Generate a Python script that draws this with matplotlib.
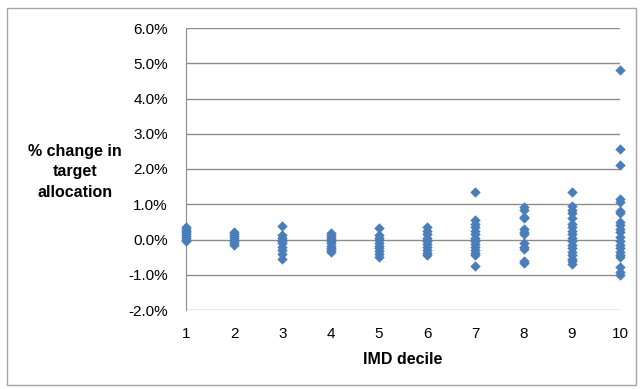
import matplotlib
matplotlib.use("Agg")
import matplotlib.pyplot as plt
from matplotlib.patches import Rectangle
from matplotlib.ticker import FuncFormatter

plt.rcParams['font.family'] = ['Liberation Sans', 'DejaVu Sans']

deciles = [1, 2, 3, 4, 5, 6, 7, 8, 9, 10]
d1 = [0.35, 0.30, 0.25, 0.20, 0.15, 0.10, 0.05, 0.0, -0.03]
d2 = [0.20, 0.15, 0.10, 0.05, 0.0, -0.05, -0.10, -0.15]
d3 = [0.38, 0.12, 0.05, 0.0, -0.05, -0.10, -0.20, -0.30, -0.40, -0.55]
d4 = [0.18, 0.12, 0.08, 0.02, -0.05, -0.10, -0.18, -0.25, -0.30, -0.35]
d5 = [0.32, 0.12, 0.05, -0.02, -0.10, -0.18, -0.25, -0.32, -0.40, -0.50]
d6 = [0.35, 0.25, 0.15, 0.05, 0.0, -0.05, -0.12, -0.20, -0.30, -0.38, -0.45]
d7 = [1.35, 0.55, 0.45, 0.35, 0.25, 0.15, 0.05, 0.0, -0.05, -0.12, -0.20, -0.30, -0.38, -0.45, -0.75]
d8 = [0.92, 0.85, 0.65, 0.60, 0.30, 0.22, 0.15, -0.10, -0.20, -0.28, -0.60, -0.68]
d9 = [1.35, 0.95, 0.85, 0.75, 0.60, 0.45, 0.35, 0.25, 0.15, 0.05, -0.05, -0.15, -0.25, -0.35, -0.45, -0.55, -0.62, -0.70]
d10 = [4.80, 2.57, 2.12, 1.15, 1.05, 0.80, 0.75, 0.50, 0.42, 0.30, 0.20, 0.08, -0.05, -0.15, -0.25, -0.35, -0.45, -0.50, -0.78, -0.92, -1.00]
series = [d1, d2, d3, d4, d5, d6, d7, d8, d9, d10]
yticks = [-2, -1, 0, 1, 2, 3, 4, 5, 6]

fig = plt.figure(figsize=(6.4, 3.89), dpi=100)
fig.patches.append(Rectangle((7/640, 1-385/389), 629/640, 377/389, transform=fig.transFigure,
                             fill=False, edgecolor='#a6a6a6', linewidth=1.0))
ax = fig.add_axes([186/640, 1-310/389, 434/640, 282/389])

for d, vals in zip(deciles, series):
    ax.scatter([d]*len(vals), vals, marker='D', s=28, color='#4a7ebb', linewidths=0, zorder=3, clip_on=False)

ax.set_xlim(1, 10)
ax.set_ylim(-2, 6)
ax.set_xticks(deciles)
ax.set_yticks(yticks)
ax.yaxis.set_major_formatter(FuncFormatter(lambda v, p: f"{v:.1f}%"))
ax.grid(axis='y', color='#8c8c8c', linewidth=1.0)
ax.set_axisbelow(True)
for s in ['top', 'right', 'bottom']:
    ax.spines[s].set_visible(False)
ax.spines['left'].set_color('#8c8c8c')
ax.tick_params(axis='both', length=0, labelsize=11, colors='#000000')
ax.tick_params(axis='y', pad=13)
ax.tick_params(axis='x', pad=12)
ax.set_xlabel('IMD decile', fontsize=11.5, fontweight='bold', labelpad=8)
fig.text(75/640, 1-172/389, '% change in\ntarget\nallocation', ha='center', va='center',
         fontsize=11.5, fontweight='bold', linespacing=1.45)

fig.savefig('out.png', dpi=100)
